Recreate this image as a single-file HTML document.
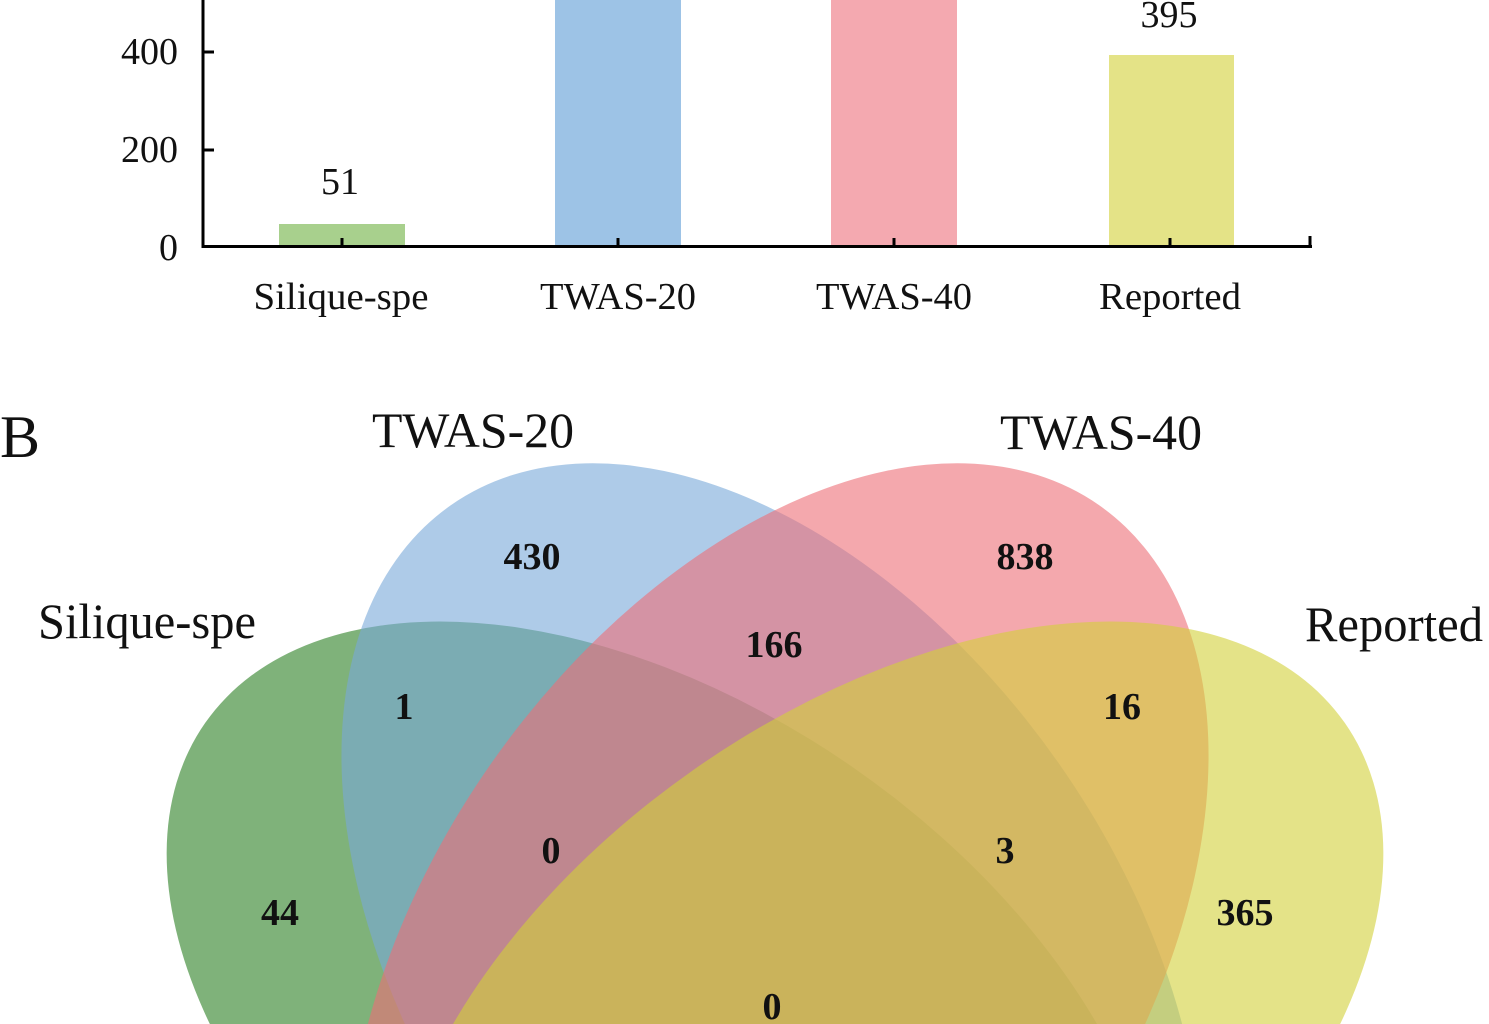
<!DOCTYPE html>
<html><head><meta charset="utf-8"><style>
html,body{margin:0;padding:0;background:#fff;overflow:hidden;width:1489px;height:1024px;}
svg{display:block;}
</style></head><body>
<svg width="1489" height="1024" viewBox="0 0 1489 1024" xmlns="http://www.w3.org/2000/svg">
<g font-family="Liberation Serif, serif" fill="#111">
<rect x="279" y="224" width="126" height="23" fill="#a8d08d"/>
<rect x="555" y="0" width="126" height="247" fill="#9dc3e6"/>
<rect x="831" y="0" width="126" height="247" fill="#f4a9b0"/>
<rect x="1109" y="55" width="125" height="192" fill="#e4e387"/>
<line x1="203" y1="0" x2="203" y2="248" stroke="#000" stroke-width="3"/>
<line x1="202" y1="246.5" x2="1312" y2="246.5" stroke="#000" stroke-width="3"/>
<line x1="203" y1="52" x2="214" y2="52" stroke="#000" stroke-width="3"/>
<line x1="203" y1="150" x2="214" y2="150" stroke="#000" stroke-width="3"/>
<line x1="342" y1="238" x2="342" y2="247" stroke="#000" stroke-width="3"/>
<line x1="618" y1="238" x2="618" y2="247" stroke="#000" stroke-width="3"/>
<line x1="894" y1="238" x2="894" y2="247" stroke="#000" stroke-width="3"/>
<line x1="1170" y1="238" x2="1170" y2="247" stroke="#000" stroke-width="3"/>
<line x1="1310" y1="236" x2="1310" y2="247" stroke="#000" stroke-width="3"/>
<g font-size="38" text-anchor="end">
<text x="178" y="64">400</text>
<text x="178" y="162">200</text>
<text x="178" y="260">0</text>
</g>
<g font-size="38" text-anchor="middle">
<text x="340" y="194">51</text>
<text x="1169" y="27">395</text>
<text x="341" y="309" textLength="175" lengthAdjust="spacingAndGlyphs">Silique-spe</text>
<text x="618" y="309" textLength="156" lengthAdjust="spacingAndGlyphs">TWAS-20</text>
<text x="894" y="309" textLength="156" lengthAdjust="spacingAndGlyphs">TWAS-40</text>
<text x="1170" y="309" textLength="142" lengthAdjust="spacingAndGlyphs">Reported</text>
</g>
<text x="0" y="457" font-size="60">B</text>
<g font-size="50">
<text x="372" y="447" textLength="202" lengthAdjust="spacingAndGlyphs">TWAS-20</text>
<text x="1000" y="449" textLength="202" lengthAdjust="spacingAndGlyphs">TWAS-40</text>
<text x="38" y="638" textLength="218" lengthAdjust="spacingAndGlyphs">Silique-spe</text>
<text x="1305" y="641" textLength="178" lengthAdjust="spacingAndGlyphs">Reported</text>
</g>
<g fill-opacity="0.6">
<ellipse cx="664" cy="1044" rx="560" ry="335" transform="rotate(35 664 1044)" fill="#2a7f21"/>
<ellipse cx="772" cy="964" rx="350" ry="560" transform="rotate(-35 772 964)" fill="#78a8d9"/>
<ellipse cx="778" cy="964" rx="350" ry="560" transform="rotate(35 778 964)" fill="#ed6e76"/>
<ellipse cx="886" cy="1044" rx="560" ry="335" transform="rotate(-35 886 1044)" fill="#d2d039"/>
</g>
<g font-size="38" font-weight="bold" text-anchor="middle">
<text x="532" y="569">430</text>
<text x="1025" y="569">838</text>
<text x="774" y="657">166</text>
<text x="404" y="719">1</text>
<text x="1122" y="719">16</text>
<text x="551" y="863">0</text>
<text x="1005" y="863">3</text>
<text x="280" y="925">44</text>
<text x="1245" y="925">365</text>
<text x="772" y="1019">0</text>
</g>
</g>
</svg>
</body></html>
